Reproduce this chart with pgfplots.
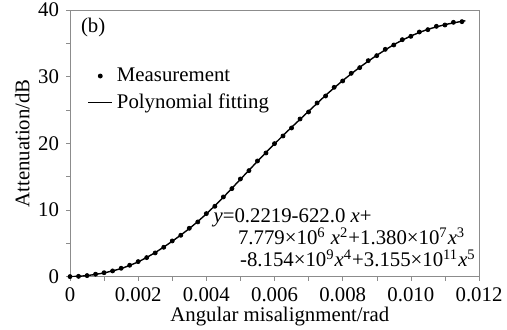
\documentclass[border=0pt]{standalone}
\usepackage{fontspec}
\setmainfont{Liberation Serif}
\usepackage{pgfplots}
\usepackage{pgfplotstable}
\pgfplotsset{compat=1.18}
\pgfplotsset{
  legdot/.style={legend image code/.code={\draw[##1] plot coordinates {(6pt,0pt)};}},
  legline/.style={legend image code/.code={\draw[##1] (0pt,0pt) -- (12pt,0pt);}},
}
\newcommand\ff{\fontsize{10.4}{12}\selectfont}
\pgfplotstableread{
x y
0 0
0.00025 0.04
0.0005 0.15
0.00075 0.36
0.001 0.58
0.00125 0.85
0.0015 1.25
0.00175 1.70
0.002 2.25
0.00225 2.85
0.0025 3.55
0.00275 4.40
0.003 5.35
0.00325 6.20
0.0035 7.25
0.00375 8.20
0.004 9.45
0.00425 10.55
0.0045 11.95
0.00475 13.20
0.005 14.65
0.00525 15.90
0.0055 17.35
0.00575 18.55
0.006 19.95
0.00625 21.10
0.0065 22.30
0.00675 23.65
0.007 24.70
0.00725 26.05
0.0075 27.10
0.00775 28.40
0.008 29.35
0.00825 30.50
0.0085 31.35
0.00875 32.40
0.009 33.15
0.00925 34.10
0.0095 34.75
0.00975 35.55
0.010 36.05
0.01025 36.70
0.0105 37.05
0.01075 37.55
0.011 37.75
0.01125 38.15
0.0115 38.25
}\meas
\pgfplotstableread{
x y
0 0
0.00025 0.04
0.0005 0.15
0.00075 0.33
0.001 0.55
0.00125 0.85
0.0015 1.2
0.00175 1.67
0.002 2.2
0.00225 2.87
0.0025 3.6
0.00275 4.43
0.003 5.3
0.00325 6.23
0.0035 7.2
0.00375 8.27
0.004 9.4
0.00425 10.63
0.0045 11.9
0.00475 13.25
0.005 14.6
0.00525 15.95
0.0055 17.3
0.00575 18.62
0.006 19.9
0.00625 21.17
0.0065 22.4
0.00675 23.6
0.007 24.8
0.00725 26.0
0.0075 27.2
0.00775 28.32
0.008 29.4
0.00825 30.42
0.0085 31.4
0.00875 32.32
0.009 33.2
0.00925 34.02
0.0095 34.8
0.00975 35.48
0.010 36.1
0.01025 36.63
0.0105 37.1
0.01075 37.47
0.011 37.8
0.01125 38.07
0.0115 38.3
0.0116 38.38
}\fit
\begin{document}
\begin{tikzpicture}
\useasboundingbox (-35pt,-26.7pt) rectangle (218.5pt,138.3pt);
\begin{axis}[
  scale only axis, width=204.5pt, height=133.3pt,
  xmin=0, xmax=0.012, ymin=0, ymax=40,
  xtick={0,0.002,0.004,0.006,0.008,0.010,0.012},
  xticklabels={0,0.002,0.004,0.006,0.008,0.010,0.012},
  scaled x ticks=false,
  ytick={0,10,20,30,40},
  minor x tick num=1, minor y tick num=1,
  tick align=outside, xtick pos=bottom, ytick pos=left,
  major tick length=2pt, minor tick length=2pt,
  axis line style={black!45},
  tick style={black!45},
  /pgf/number format/assume math mode=true,
  tick label style={font=\ff},
  label style={font=\ff},
  xlabel={Angular misalignment/rad},
  ylabel={Attenuation/dB},
  xlabel style={at={(axis description cs:0.513,0)}, anchor=base, yshift=-22.5pt},
  ylabel style={at={(axis description cs:-0.117,0.5)}, anchor=center},
  legend style={draw=none, fill=none, at={(rel axis cs:0.042,0.80)}, anchor=north west,
    font=\ff, inner sep=0pt, row sep=0.8pt,
    nodes={inner sep=2pt}},
  legend cell align=left,
]
\addplot[only marks, mark=*, mark size=1pt, black, legdot] table[x=x,y=y]{\meas};
\addlegendentry{Measurement}
\addplot[black, line width=0.7pt, legline] table[x=x,y=y]{\fit};
\addlegendentry{Polynomial fitting}
\node[anchor=base west, inner sep=0pt, font=\ff] at (rel axis cs:0.026,0.915) {(b)};
\node[anchor=base west, inner sep=0pt, font=\ff] at (rel axis cs:0.35,0.2025) {\textit{y}=0.2219-622.0 \textit{x}+};
\node[anchor=base west, inner sep=0pt, font=\ff] at (rel axis cs:0.41,0.12) {7.779×10\textsuperscript{6} \textit{x}\textsuperscript{2}+1.380×10\textsuperscript{7}\textit{x}\textsuperscript{3}};
\node[anchor=base west, inner sep=0pt, font=\ff] at (rel axis cs:0.415,0.0375) {-8.154×10\textsuperscript{9}\textit{x}\textsuperscript{4}+3.155×10\textsuperscript{11}\textit{x}\textsuperscript{5}};
\end{axis}
\end{tikzpicture}
\end{document}
